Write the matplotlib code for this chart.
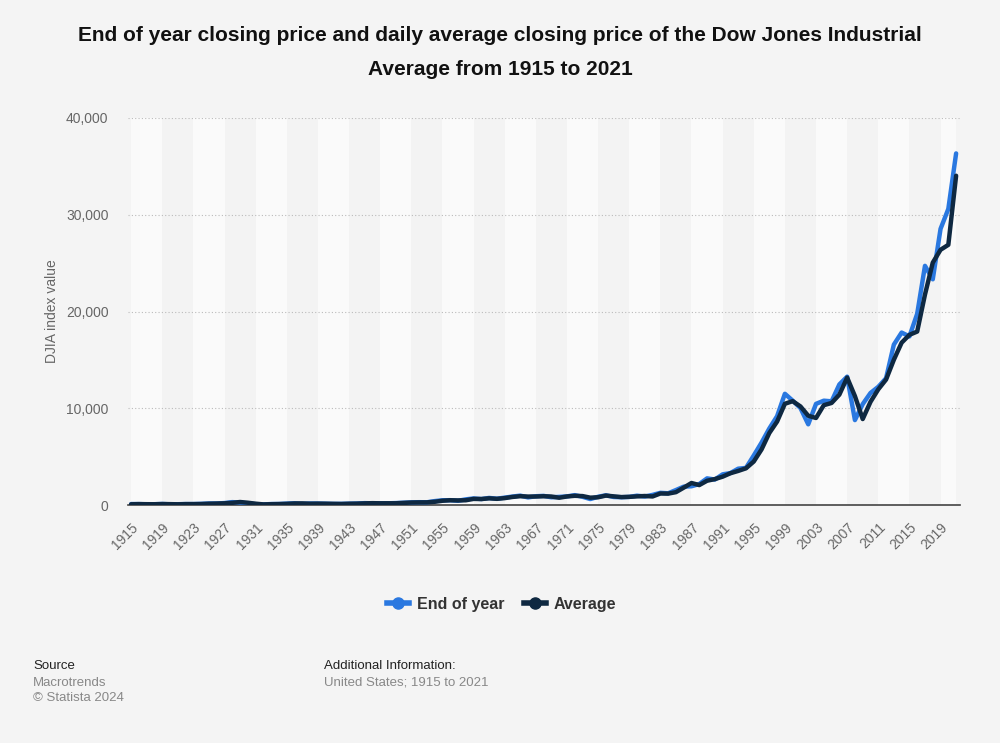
import matplotlib.pyplot as plt

plt.rcParams['font.family'] = ['Liberation Sans', 'DejaVu Sans']

years = list(range(1915, 2022))

# end of year closing price
end_of_year = [
    99.15, 95.00, 74.38, 82.20, 107.23, 71.95, 81.10, 98.73, 95.52, 120.51,
    156.66, 157.20, 202.40, 300.00, 248.48, 164.58, 77.90, 59.93, 99.90, 104.04,
    144.13, 179.90, 120.85, 154.76, 150.24, 131.13, 110.96, 119.40, 135.89, 152.32,
    192.91, 177.20, 181.16, 177.30, 200.13, 235.41, 269.23, 291.90, 280.90, 404.39,
    488.40, 499.47, 435.69, 583.65, 679.36, 615.89, 731.14, 652.10, 762.95, 874.13,
    969.26, 785.69, 905.11, 943.75, 800.36, 838.92, 890.20, 1020.02, 850.86, 616.24,
    852.41, 1004.65, 831.17, 805.01, 838.74, 963.99, 875.00, 1046.54, 1258.64, 1211.57,
    1546.67, 1895.95, 1938.83, 2168.57, 2753.20, 2633.66, 3168.83, 3301.11, 3754.09, 3834.44,
    5117.12, 6448.27, 7908.25, 9181.43, 11497.12, 10786.85, 10021.57, 8341.63, 10453.92, 10783.01,
    10717.50, 12463.15, 13264.82, 8776.39, 10428.05, 11577.51, 12217.56, 13104.14, 16576.66, 17823.07,
    17425.03, 19762.60, 24719.22, 23327.46, 28538.44, 30606.48, 36338.30,
]

# daily average closing price
average = [
    74, 95, 85, 80, 100, 90, 74, 92, 95, 101,
    134, 153, 175, 226, 311, 236, 138, 64, 84, 98,
    120, 161, 167, 133, 142, 134, 121, 105, 131, 142,
    170, 192, 177, 179, 179, 216, 257, 270, 275, 333,
    442, 493, 475, 491, 632, 618, 691, 639, 714, 834,
    911, 874, 879, 906, 877, 753, 885, 951, 924, 759,
    802, 975, 895, 820, 844, 892, 932, 884, 1190, 1178,
    1328, 1793, 2276, 2061, 2509, 2679, 2929, 3284, 3522, 3794,
    4494, 5743, 7441, 8626, 10465, 10735, 10189, 9226, 8994, 10317,
    10548, 11409, 13170, 11253, 8885, 10663, 11957, 12967, 15010, 16778,
    17587, 17927, 21750, 25046, 26379, 26890, 34032,
]

tick_years = list(range(1915, 2022, 4))
y_ticks = [0, 10000, 20000, 30000, 40000]

bg = '#f4f4f4'
fig = plt.figure(figsize=(10, 7.43), dpi=100, facecolor=bg)
ax = fig.add_axes([0.128, 0.3203, 0.832, 0.5209])
ax.set_facecolor(bg)

# alternating column bands
for i, start in enumerate(tick_years):
    end = min(start + 4, 2021)
    ax.axvspan(start, end, color='#fafafa' if i % 2 == 0 else '#f3f3f3', lw=0, zorder=0)

ax.plot(years, end_of_year, color='#2a78e0', lw=3.2, label='End of year', zorder=3,
        solid_joinstyle='round', solid_capstyle='round')
ax.plot(years, average, color='#0e2841', lw=3.2, label='Average', zorder=4,
        solid_joinstyle='round', solid_capstyle='round')

ax.set_xlim(1914.6, 2021.5)
ax.set_ylim(0, 40000)
ax.set_yticks(y_ticks)
ax.set_yticklabels([f'{v:,}' for v in y_ticks])
ax.set_xticks(tick_years)
ax.set_xticklabels([str(y) for y in tick_years], rotation=45, ha='right', rotation_mode='anchor')
ax.tick_params(axis='both', length=0, colors='#666666', labelsize=10)
ax.tick_params(axis='x', pad=11)
ax.tick_params(axis='y', pad=14)
ax.grid(axis='y', color='#bbbbbb', linestyle=(0, (1, 2)), lw=0.8)
ax.set_axisbelow(True)
for s in ['top', 'right', 'left']:
    ax.spines[s].set_visible(False)
ax.spines['bottom'].set_color('#444444')
ax.spines['bottom'].set_linewidth(1.2)
ax.set_ylabel('DJIA index value', color='#666666', fontsize=10, labelpad=5)

ax.legend(handles=[
    plt.Line2D([], [], color='#2a78e0', lw=4, marker='o', markersize=8),
    plt.Line2D([], [], color='#0e2841', lw=4, marker='o', markersize=8),
], labels=['End of year', 'Average'], loc='center', bbox_to_anchor=(0.449, -0.257),
    ncol=2, frameon=False, prop={'weight': 'bold', 'size': 11.5}, handlelength=1.4,
    columnspacing=1.2, handletextpad=0.5, labelcolor='#333333')

fig.text(0.5, 0.952, 'End of year closing price and daily average closing price of the Dow Jones Industrial',
         ha='center', va='center', fontsize=15, weight='bold', color='#111111')
fig.text(0.5, 0.907, 'Average from 1915 to 2021',
         ha='center', va='center', fontsize=15, weight='bold', color='#111111')

fig.text(0.033, 0.104, 'Source', fontsize=9.5, color='#222222', va='center')
fig.text(0.033, 0.081, 'Macrotrends', fontsize=9.5, color='#888888', va='center')
fig.text(0.033, 0.061, '\u00a9 Statista 2024', fontsize=9.5, color='#888888', va='center')
fig.text(0.324, 0.104, 'Additional Information:', fontsize=9.5, color='#222222', va='center')
fig.text(0.324, 0.081, 'United States; 1915 to 2021', fontsize=9.5, color='#888888', va='center')

fig.savefig('out.png', dpi=100, facecolor=bg)
